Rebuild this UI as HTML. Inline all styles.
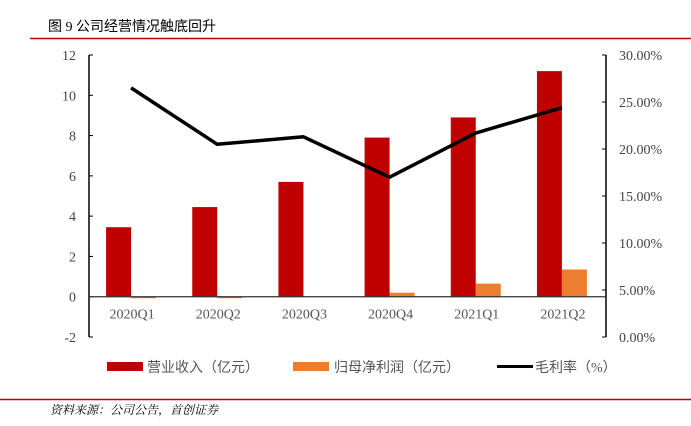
<!DOCTYPE html>
<html><head><meta charset="utf-8"><style>
body{margin:0;background:#fff;width:691px;height:421px;overflow:hidden;font-family:"Liberation Serif","Noto Serif CJK SC",serif;}
</style></head><body>
<svg width="691" height="421" xmlns="http://www.w3.org/2000/svg">
<text x="48" y="31" font-size="14" font-family="Liberation Serif,Noto Sans CJK SC,sans-serif" fill="#000">图 9  公司经营情况触底回升</text>
<line x1="30" y1="38.5" x2="691" y2="38.5" stroke="#c00000" stroke-width="1.5"/>
<g id="plot"></g>
<g font-size="14" fill="#555" font-family="Liberation Serif,Noto Sans CJK SC,sans-serif">
<g><rect x="107" y="362" width="36" height="9" fill="#c00000"/><text x="147" y="372">营业收入（亿元）</text></g>
<g><rect x="293" y="362" width="36" height="9" fill="#ed7d31"/><text x="334" y="372">归母净利润（亿元）</text></g>
<g><line x1="497" y1="366.5" x2="533" y2="366.5" stroke="#000" stroke-width="3"/><text x="535" y="372">毛利率（%）</text></g>
</g>
<line x1="0" y1="399.5" x2="691" y2="399.5" stroke="#c00000" stroke-width="1.5"/>
<text x="50" y="414" font-size="12" font-style="italic" font-family="Liberation Serif,Noto Serif CJK SC,serif">资料来源：公司公告，首创证券</text>
</svg>
<script>
const categories=["2020Q1","2020Q2","2020Q3","2020Q4","2021Q1","2021Q2"];
const revenue=[3.45,4.45,5.7,7.9,8.9,11.2];
const profit=[-0.05,-0.05,0,0.2,0.65,1.35];
const margin=[26.5,20.5,21.3,17.0,21.7,24.4];
const leftTicks=[-2,0,2,4,6,8,10,12];
const rightTicks=[0,5,10,15,20,25,30];
const NS="http://www.w3.org/2000/svg";
const g=document.getElementById('plot');
const X0=89,X1=606,YT=55,YB=337;
const yL=v=>YB-(v+2)/14*(YB-YT);
const yR=v=>YB-v/30*(YB-YT);
const band=(X1-X0)/categories.length;
const xc=i=>X0+band*(i+0.5);
function mk(t,a){const e=document.createElementNS(NS,t);for(const k in a)e.setAttribute(k,a[k]);g.appendChild(e);return e;}
let e=mk('line',{x1:X0,y1:YT,x2:X0,y2:YB,stroke:'#000','stroke-width':1.5});

e=mk('line',{x1:X1,y1:YT,x2:X1,y2:YB,stroke:'#000','stroke-width':1.5});

leftTicks.forEach(v=>{
 const t=mk('line',{x1:X0,y1:yL(v),x2:X0+4,y2:yL(v),stroke:'#000'});
 
 const l=mk('text',{x:X0-13,y:yL(v)+5,'text-anchor':'end','font-size':14,fill:'#444'});l.textContent=v;
 
});
rightTicks.forEach(v=>{
 const t=mk('line',{x1:X1-4,y1:yR(v),x2:X1,y2:yR(v),stroke:'#000'});
 
 const l=mk('text',{x:X1+13,y:yR(v)+5,'font-size':14,fill:'#444'});l.textContent=v.toFixed(2)+'%';
 
});
const bw=25;
categories.forEach((c,i)=>{
 const cx=xc(i);
 const r=mk('rect',{x:cx-bw-1,y:Math.min(yL(revenue[i]),yL(0)),width:bw,height:Math.abs(yL(revenue[i])-yL(0)),fill:'#c00000'});
 
 const p=mk('rect',{x:cx-1,y:Math.min(yL(profit[i]),yL(0)),width:bw,height:Math.max(Math.abs(yL(profit[i])-yL(0)),profit[i]<0?1.5:0),fill:'#ed7d31'});
 
 const l=mk('text',{x:cx,y:yL(0)+22,'text-anchor':'middle','font-size':14,fill:'#555'});l.textContent=c;
 
});
e=mk('line',{x1:X0,y1:yL(0),x2:X1,y2:yL(0),stroke:'#333','stroke-width':1.2});

const pl=mk('polyline',{points:margin.map((v,i)=>(xc(i)-1)+','+yR(v)).join(' '),fill:'none',stroke:'#000','stroke-width':3.5,'stroke-linejoin':'round'});

</script>
</body></html>
